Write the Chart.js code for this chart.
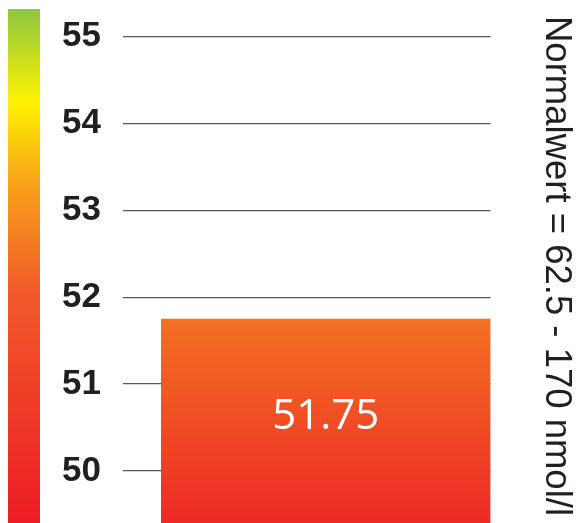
<!DOCTYPE html>
<html>
<head>
<meta charset="utf-8">
<script src="https://cdn.jsdelivr.net/npm/chart.js@4"></script>
<style>
  html, body { margin: 0; padding: 0; background: #fff; }
  #chart { display: block; }
</style>
</head>
<body>
<canvas id="chart" width="576" height="523"></canvas>
<script>
const categories = ['Wert'];
const values = [51.75];
const yTicks = [50, 51, 52, 53, 54, 55];
const rangeLabel = 'Normalwert = 62.5 - 170 nmol/l';

// colour scale strip on the left, green at the top to red at the bottom
const stripStops = [
  [0, '#8dc63f'],
  [0.18, '#fff200'],
  [0.34, '#f8a11b'],
  [0.55, '#f15a2a'],
  [1, '#ed1c24'],
];

const colorStrip = {
  id: 'colorStrip',
  beforeDraw(chart) {
    const { ctx, chartArea } = chart;
    const left = chart.scales.y.left - 32;
    const grad = ctx.createLinearGradient(0, chartArea.top, 0, chartArea.bottom);
    stripStops.forEach(([pos, color]) => grad.addColorStop(pos, color));
    ctx.save();
    ctx.fillStyle = grad;
    ctx.fillRect(left, chartArea.top, 32, chartArea.bottom - chartArea.top);
    ctx.restore();
  },
};

const barLabel = {
  id: 'barLabel',
  afterDraw(chart) {
    const { ctx, chartArea, scales } = chart;
    values.forEach((value, i) => {
      const x = scales.x.getPixelForValue(i);
      const y = (scales.y.getPixelForValue(value) + chartArea.bottom) / 2 - 4;
      ctx.save();
      ctx.fillStyle = '#ffffff';
      ctx.font = '42px "Open Sans", sans-serif';
      ctx.textAlign = 'center';
      ctx.textBaseline = 'middle';
      ctx.fillText(String(value), x, y);
      ctx.restore();
    });
  },
};

new Chart(document.getElementById('chart'), {
  type: 'bar',
  data: {
    labels: categories,
    datasets: [{
      data: values,
      backgroundColor: context => {
        const { ctx, chartArea } = context.chart;
        if (!chartArea) return '#f05a28';
        const top = context.chart.scales.y.getPixelForValue(values[0]);
        const grad = ctx.createLinearGradient(0, top, 0, chartArea.bottom);
        grad.addColorStop(0, '#f37022');
        grad.addColorStop(1, '#ed2a26');
        return grad;
      },
      borderWidth: 0,
      barPercentage: 1,
      categoryPercentage: 1,
    }],
  },
  options: {
    responsive: false,
    animation: false,
    devicePixelRatio: 1,
    layout: { padding: { left: 40, top: 9, right: 0, bottom: 0 } },
    plugins: {
      legend: { display: false },
      tooltip: { enabled: false },
      title: {
        display: true,
        position: 'right',
        text: rangeLabel,
        color: '#231f20',
        font: { family: '"Liberation Sans", Arial, sans-serif', size: 36.5, weight: 'normal', lineHeight: 1 },
        padding: { top: 2, bottom: 47 },
      },
    },
    scales: {
      x: { display: false },
      y: {
        min: 49.4,
        max: 55.32,
        afterBuildTicks: scale => {
          scale.ticks = yTicks.map(value => ({ value }));
        },
        afterFit: scale => {
          scale.paddingTop = 0;
          scale.paddingBottom = 0;
        },
        border: { display: false },
        grid: {
          color: '#555555',
          lineWidth: 1.3,
          drawTicks: true,
          tickLength: 38,
        },
        ticks: {
          padding: 22,
          color: '#231f20',
          font: { family: '"Liberation Sans", Arial, sans-serif', size: 35, weight: 'bold' },
        },
      },
    },
  },
  plugins: [colorStrip, barLabel],
});
</script>
</body>
</html>
